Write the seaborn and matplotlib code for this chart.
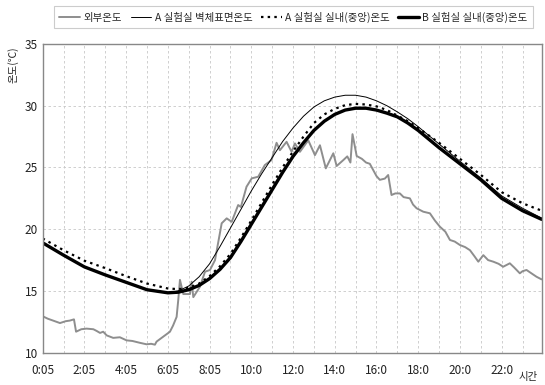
import pandas as pd
import numpy as np
import seaborn as sns
import matplotlib.pyplot as plt

# hours elapsed since 0:05 for the room/wall readings
hours = [0, 1, 2, 3, 4, 5, 6, 6.5, 7, 7.5, 8, 8.5, 9, 9.5, 10, 10.5, 11, 11.5, 12,
         12.5, 13, 13.5, 14, 14.5, 15, 15.5, 16, 16.5, 17, 17.5, 18, 19, 20, 21, 22,
         23, 23.917]
wall_a = [18.9, 17.9, 16.95, 16.3, 15.7, 15.1, 14.85, 15.0, 15.4, 16.15, 17.2, 18.6,
          20.1, 21.6, 23.1, 24.5, 25.8, 27.1, 28.2, 29.15, 29.9, 30.4, 30.7, 30.85,
          30.85, 30.7, 30.4, 30.0, 29.5, 28.95, 28.3, 26.9, 25.5, 24.15, 22.7, 21.7, 20.9]
room_a = [19.25, 18.3, 17.45, 16.85, 16.2, 15.6, 15.2, 15.15, 15.25, 15.6, 16.2, 17.0,
          18.0, 19.3, 20.7, 22.15, 23.6, 25.0, 26.3, 27.5, 28.6, 29.3, 29.75, 30.05,
          30.15, 30.1, 29.95, 29.65, 29.2, 28.75, 28.2, 27.0, 25.7, 24.4, 23.0, 22.1, 21.5]
room_b = [18.9, 17.9, 16.95, 16.3, 15.7, 15.1, 14.85, 14.9, 15.1, 15.45, 16.0, 16.75,
          17.7, 19.0, 20.4, 21.8, 23.2, 24.6, 25.9, 27.0, 28.0, 28.75, 29.3, 29.65,
          29.8, 29.8, 29.65, 29.4, 29.1, 28.6, 28.0, 26.6, 25.3, 24.0, 22.5, 21.5, 20.8]

# outdoor temperature, read at irregular steps
out_hours = [0.0, 0.25, 0.5, 0.83, 1.1, 1.3, 1.5, 1.6, 1.85, 2.1, 2.43, 2.6, 2.75, 2.9,
             3.07, 3.38, 3.7, 4.02, 4.3, 4.66, 4.98, 5.2, 5.38, 5.46, 5.78, 6.1, 6.25,
             6.42, 6.5, 6.58, 6.74, 7.06, 7.14, 7.22, 7.54, 7.78, 8.02, 8.26, 8.58, 8.82,
             9.06, 9.37, 9.5, 9.77, 10.02, 10.33, 10.65, 10.97, 11.21, 11.37, 11.69,
             11.93, 12.09, 12.33, 12.73, 13.05, 13.29, 13.57, 13.93, 14.09, 14.41, 14.6,
             14.75, 14.85, 15.05, 15.3, 15.5, 15.68, 16.0, 16.16, 16.4, 16.56, 16.72,
             16.9, 17.12, 17.3, 17.6, 17.75, 17.92, 18.24, 18.56, 18.8, 19.04, 19.3,
             19.52, 19.75, 20.0, 20.25, 20.48, 20.7, 20.88, 21.12, 21.35, 21.6, 21.85,
             22.07, 22.39, 22.6, 22.87, 23.0, 23.19, 23.45, 23.67, 23.91]
outdoor = [12.95, 12.75, 12.6, 12.4, 12.55, 12.6, 12.7, 11.7, 11.9, 11.95, 11.9, 11.75,
           11.6, 11.7, 11.4, 11.2, 11.25, 11.0, 10.95, 10.8, 10.68, 10.72, 10.65, 10.9,
           11.3, 11.7, 12.2, 12.9, 14.3, 15.9, 14.75, 14.75, 15.75, 14.5, 15.35, 16.56,
           16.7, 17.5, 20.48, 20.88, 20.6, 21.96, 21.8, 23.44, 24.12, 24.25, 25.2, 25.6,
           27.0, 26.4, 27.08, 26.27, 26.95, 26.27, 27.2, 26.0, 26.8, 24.93, 26.15, 25.12,
           25.6, 25.9, 25.4, 27.7, 25.93, 25.7, 25.4, 25.3, 24.3, 24.0, 24.1, 24.39,
           22.77, 22.9, 22.9, 22.6, 22.5, 22.0, 21.7, 21.42, 21.29, 20.7, 20.2, 19.8,
           19.13, 19.0, 18.72, 18.55, 18.3, 17.8, 17.37, 17.9, 17.5, 17.37, 17.2, 16.96,
           17.24, 16.9, 16.43, 16.6, 16.7, 16.4, 16.15, 15.94]

tick_hours = [0, 2, 4, 6, 8, 10, 12, 14, 16, 18, 20, 22]
tick_labels = ["0:05", "2:05", "4:05", "6:05", "8:05", "10:0", "12:0", "14:0",
               "16:0", "18:0", "20:0", "22:0"]
names = ["외부온도", "A 실험실 벽체표면온도", "A 실험실 실내(중앙)온도", "B 실험실 실내(중앙)온도"]

sns.set_style("white")
plt.rcParams['font.family'] = ['Noto Sans CJK KR', 'DejaVu Sans']

fig = plt.figure(figsize=(5.45, 3.85), dpi=100)
ax = fig.add_axes([0.0783, 0.0839, 0.9156, 0.8018])

df_out = pd.DataFrame({"h": out_hours, "t": outdoor})
df_in = pd.DataFrame({"h": hours, "wall": wall_a, "ra": room_a, "rb": room_b})

sns.lineplot(data=df_out, x="h", y="t", ax=ax, color="#8e8e8e", lw=1.4, label=names[0])
sns.lineplot(data=df_in, x="h", y="wall", ax=ax, color="black", lw=0.7, label=names[1])
sns.lineplot(data=df_in, x="h", y="ra", ax=ax, color="black", lw=1.6,
             linestyle=(0, (1.1, 1.9)), label=names[2])
sns.lineplot(data=df_in, x="h", y="rb", ax=ax, color="black", lw=2.4, label=names[3])

ax.set_xlim(0, 23.917)
ax.set_ylim(10, 35)
ax.set_xticks(tick_hours)
ax.set_xticklabels(tick_labels)
ax.set_xticks(range(1, 24), minor=True)
ax.set_yticks([10, 15, 20, 25, 30, 35])
ax.tick_params(axis="both", which="both", length=0, labelsize=8.5, colors="#222222")
ax.tick_params(axis="x", pad=8)
ax.set_xlabel("")
ax.set_ylabel("")
ax.grid(True, which="both", color="#c8c8c8", lw=0.6, linestyle=(0, (3, 3)))
for s in ax.spines.values():
    s.set_color("#888888")
    s.set_linewidth(1.0)

if ax.get_legend() is not None:
    ax.get_legend().remove()
handles, labels = ax.get_legend_handles_labels()
leg = fig.legend(handles, labels, loc="lower left", ncol=4, mode="expand",
                 bbox_to_anchor=(0.09, 0.914, 0.897, 0.07), fontsize=7.5,
                 handlelength=2.0, handletextpad=0.3, columnspacing=1.0,
                 fancybox=False, edgecolor="#cccccc", framealpha=1, borderpad=0.5)
leg.get_frame().set_linewidth(0.8)

fig.text(0.024, 0.831, "온도(℃)", rotation=90, ha="center", va="center", fontsize=7.5)
fig.text(0.969, 0.021, "시간", ha="center", va="center", fontsize=7.5)

plt.savefig("out.png", dpi=100)
